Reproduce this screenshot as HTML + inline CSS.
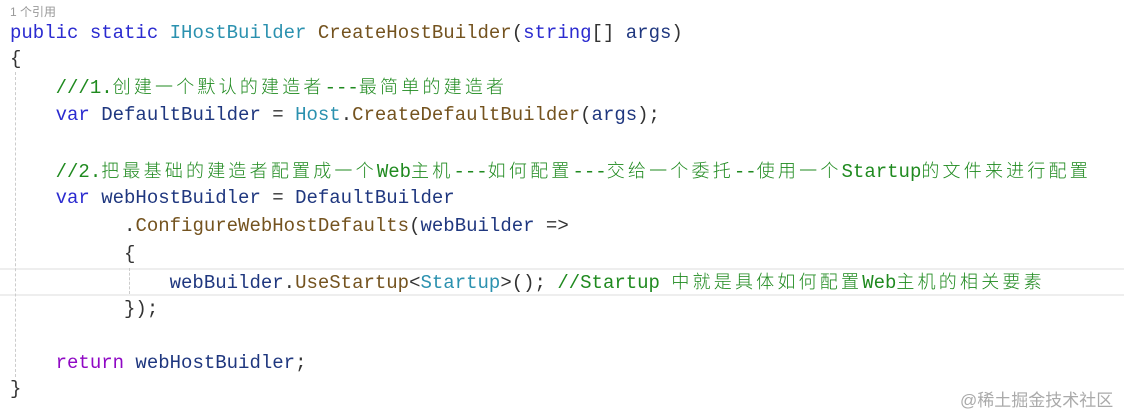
<!DOCTYPE html>
<html><head><meta charset="utf-8"><style>
html,body{margin:0;padding:0;background:#fff;}
body{width:1124px;height:414px;position:relative;overflow:hidden;}
.l{position:absolute;left:10px;white-space:pre;font-family:"Liberation Mono","Noto Sans CJK SC",monospace;font-size:19px;line-height:22px;color:#1f377f;}
i{font-style:normal;letter-spacing:3.2px;font-family:"Noto Sans CJK SC",sans-serif;font-size:18px;font-weight:300;}
.k{color:#2b2bd0}.t{color:#2b91af}.m{color:#74531f}.c{color:#1f8a1f}.p{color:#8f08c4}.d{color:#333}
.g{position:absolute;width:0;border-left:1px dashed #ccc;}
</style></head><body>
<div style="position:absolute;left:0;top:268px;width:1124px;height:24px;border-top:2px solid #eee;border-bottom:2px solid #eee;"></div>
<div class="g" style="left:15px;top:72px;height:305px"></div>
<div class="g" style="left:129px;top:268px;height:26px"></div>
<div style="position:absolute;left:10px;top:3px;font-family:'Liberation Sans','Noto Sans CJK SC',sans-serif;font-size:12px;color:#999">1 个引用</div>
<div class="l" style="top:22px"><span class="k">public static</span> <span class="t">IHostBuilder</span> <span class="m">CreateHostBuilder</span><span class="d">(</span><span class="k">string</span><span class="d">[]</span> args<span class="d">)</span></div>
<div class="l d" style="top:48px">{</div>
<div class="l c" style="top:75px">    ///1.<i>创建一个默认的建造者</i>---<i>最简单的建造者</i></div>
<div class="l" style="top:104px">    <span class="k">var</span> DefaultBuilder <span class="d">=</span> <span class="t">Host</span><span class="d">.</span><span class="m">CreateDefaultBuilder</span><span class="d">(</span>args<span class="d">);</span></div>
<div class="l c" style="top:159px">    //2.<i>把最基础的建造者配置成一个</i>Web<i>主机</i>---<i>如何配置</i>---<i>交给一个委托</i>--<i>使用一个</i>Startup<i>的文件来进行配置</i></div>
<div class="l" style="top:187px">    <span class="k">var</span> webHostBuidler <span class="d">=</span> DefaultBuilder</div>
<div class="l" style="top:215px">          <span class="d">.</span><span class="m">ConfigureWebHostDefaults</span><span class="d">(</span>webBuilder <span class="d">=&gt;</span></div>
<div class="l d" style="top:243px">          {</div>
<div class="l" style="top:270px">              webBuilder<span class="d">.</span><span class="m">UseStartup</span><span class="d">&lt;</span><span class="t">Startup</span><span class="d">&gt;();</span> <span class="c">//Startup <i>中就是具体如何配置</i>Web<i>主机的相关要素</i></span></div>
<div class="l d" style="top:298px">          });</div>
<div class="l" style="top:352px">    <span class="p">return</span> webHostBuidler<span class="d">;</span></div>
<div class="l d" style="top:378px">}</div>
<div style="position:absolute;left:960px;top:386px;font-family:'Liberation Sans','Noto Sans CJK SC',sans-serif;font-size:17px;color:#aaa">@稀土掘金技术社区</div>
</body></html>
